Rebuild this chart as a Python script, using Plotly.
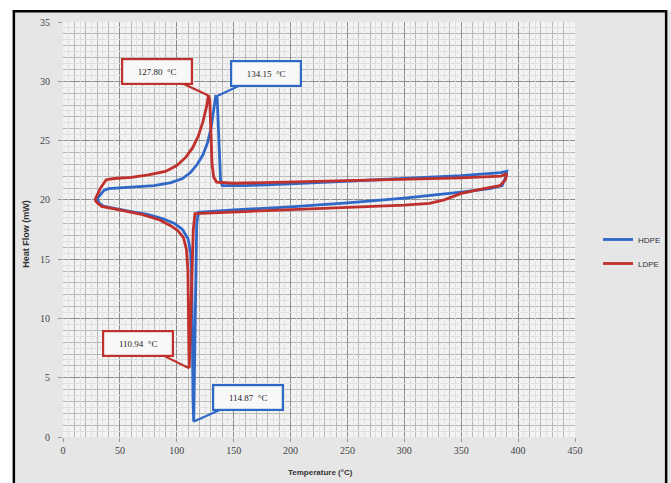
import plotly.graph_objects as go

# DSC thermograms: heating then cooling loop for each polyethylene grade
hdpe_temp = [30, 36, 40, 60, 80, 95, 105, 112, 118, 123, 127, 130, 132.5, 134.15, 135.5, 136.5, 137.5,
             138.5, 140, 160, 200, 250, 300, 350, 385, 390,
             389, 386, 375, 350, 300, 250, 200, 150, 125, 119, 117.5, 116.5, 115.5, 114.87, 114.3,
             113.8, 113.2, 112.2, 110, 105, 98, 88, 75, 60, 45, 36, 32, 30]
hdpe_flow = [20.1, 20.8, 20.95, 21.05, 21.2, 21.45, 21.8, 22.3, 23.0, 23.8, 24.8, 26.0, 27.5, 28.7, 28.6,
             26.5, 23.5, 21.6, 21.2, 21.2, 21.35, 21.55, 21.8, 22.05, 22.3, 22.4,
             21.9, 21.2, 20.95, 20.65, 20.15, 19.75, 19.4, 19.15, 19.0, 18.95, 18.0, 12.0, 5.0, 1.3, 3.0,
             8.0, 13.0, 15.5, 16.7, 17.5, 18.0, 18.4, 18.75, 19.0, 19.25, 19.45, 19.7, 20.1]

ldpe_temp = [28, 33, 38, 45, 60, 75, 90, 100, 108, 114, 119, 123, 126, 127.8, 129, 130, 131, 132.5,
             135, 150, 200, 250, 300, 350, 385, 390,
             389, 384, 370, 350, 335, 322, 300, 250, 200, 150, 125, 116, 114.5, 113.5, 112.5, 111.5,
             110.94, 110.6, 110.3, 109.8, 108.5, 106, 101, 95, 85, 70, 55, 41, 34, 30, 28]
ldpe_flow = [20.0, 21.0, 21.7, 21.8, 21.9, 22.1, 22.4, 22.9, 23.6, 24.4, 25.4, 26.6, 27.8, 28.8, 28.4,
             26.0, 23.0, 21.9, 21.5, 21.4, 21.5, 21.6, 21.7, 21.85, 22.0, 22.2,
             21.7, 21.2, 20.95, 20.55, 20.0, 19.7, 19.55, 19.35, 19.15, 18.95, 18.9, 18.85, 17.5, 15.0,
             11.0, 7.5, 5.8, 7.5, 11.0, 14.0, 15.8, 16.8, 17.4, 17.8, 18.3, 18.75, 19.05, 19.3, 19.45,
             19.75, 20.0]

# Peak callouts: (temperature, heat flow, label, colour, text offset in px)
peak_temp = [127.80, 134.15, 110.94, 114.87]
peak_flow = [28.8, 28.7, 5.8, 1.3]
peak_text = ["127.80  °C", "134.15  °C", "110.94  °C", "114.87  °C"]

BLUE = "#3068c8"
RED = "#c0302c"
peak_color = [RED, BLUE, RED, BLUE]
peak_offset = [(-51, -24), (50, -23), (-51, -25), (54, -24)]

fig = go.Figure()
fig.add_trace(go.Scatter(x=hdpe_temp, y=hdpe_flow, mode="lines", name="HDPE", legendgroup="hdpe",
                         line=dict(color=BLUE, width=2.8)))
fig.add_trace(go.Scatter(x=ldpe_temp, y=ldpe_flow, mode="lines", name="LDPE", legendgroup="ldpe",
                         line=dict(color=RED, width=2.8)))
# empty trace that carries the fine sub-grid axes
fig.add_trace(go.Scatter(x=[], y=[], xaxis="x2", yaxis="y2", showlegend=False, hoverinfo="skip"))

for t, h, txt, col, (ax, ay) in zip(peak_temp, peak_flow, peak_text, peak_color, peak_offset):
    fig.add_annotation(x=t, y=h, text=txt, showarrow=True, ax=ax, ay=ay,
                       arrowhead=0, arrowwidth=2.2, arrowcolor=col, standoff=0,
                       bordercolor=col, borderwidth=2.2, bgcolor="#f8f8f8",
                       width=66, height=21,
                       font=dict(family="Liberation Serif", size=9, color="#222"))

tick_font = dict(family="Liberation Serif", size=10, color="#444")
fig.update_layout(
    width=671, height=483,
    margin=dict(l=63, r=96, t=22, b=46, autoexpand=False),
    paper_bgcolor="#e6e6e6",
    plot_bgcolor="#f3f3f3",
    showlegend=True,
    legend=dict(x=1.045, y=0.447, xanchor="left", yanchor="middle", traceorder="grouped",
                bgcolor="rgba(0,0,0,0)", font=dict(family="Liberation Sans", size=8, color="#333"),
                itemwidth=30, tracegroupgap=5),
    xaxis=dict(range=[0, 450], dtick=50, tick0=0, showgrid=True, gridcolor="#8c8c8c", gridwidth=1,
               minor=dict(dtick=10, showgrid=True, gridcolor="#b8b8b8", gridwidth=1),
               zeroline=False, ticks="outside", ticklen=4, tickcolor="#999",
               tickfont=tick_font, showline=False),
    yaxis=dict(range=[0, 35], dtick=5, tick0=0, showgrid=True, gridcolor="#8c8c8c", gridwidth=1,
               minor=dict(dtick=1, showgrid=True, gridcolor="#b8b8b8", gridwidth=1),
               zeroline=False, ticks="outside", ticklen=4, tickcolor="#999",
               tickfont=tick_font, ticklabelstandoff=6, showline=False),
    xaxis2=dict(range=[0, 450], overlaying="x", tick0=5, dtick=10, showgrid=True, gridcolor="#e0e0e0",
                showticklabels=False, ticks="", zeroline=False, anchor="y2"),
    yaxis2=dict(range=[0, 35], overlaying="y", tick0=0.5, dtick=1, showgrid=True, gridcolor="#e0e0e0",
                showticklabels=False, ticks="", zeroline=False, anchor="x2"),
)

# axis titles
fig.add_annotation(text="<b>Temperature (°C)</b>", xref="paper", yref="paper", x=0.502, y=-0.085,
                   showarrow=False, yanchor="middle",
                   font=dict(family="Liberation Sans", size=8, color="#333"))
fig.add_annotation(text="<b>Heat Flow (mW)</b>", xref="paper", yref="paper", x=-0.072, y=0.49,
                   showarrow=False, textangle=-90, xanchor="center", yanchor="middle",
                   font=dict(family="Liberation Sans", size=9, color="#333"))

# white page around the framed chart area, and the frame itself
fig.add_shape(type="rect", xref="paper", yref="paper", x0=-0.2, x1=1.25, y0=1.027, y1=1.1,
              fillcolor="white", line=dict(width=0), layer="below")
fig.add_shape(type="rect", xref="paper", yref="paper", x0=-0.2, x1=-0.097, y0=-0.2, y1=1.1,
              fillcolor="white", line=dict(width=0), layer="below")
fig.add_shape(type="rect", xref="paper", yref="paper", x0=-0.096, x1=1.178, y0=-0.14, y1=1.026,
              fillcolor="rgba(0,0,0,0)", line=dict(color="black", width=2.5), layer="below")

fig.write_html("out.html")
